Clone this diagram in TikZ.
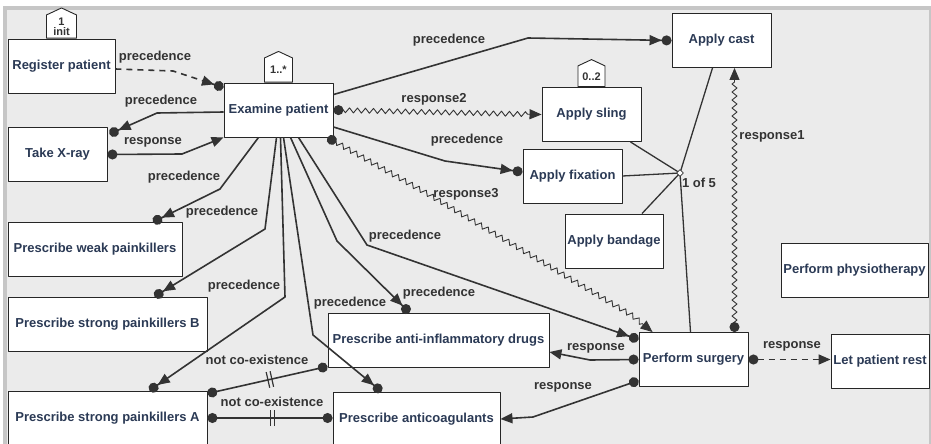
\documentclass[tikz,border=0pt]{standalone}
\usepackage{fontspec}
\setmainfont{Liberation Sans}
\usetikzlibrary{arrows.meta,positioning,calc,shapes.geometric,shapes.symbols,decorations.pathmorphing,decorations.markings}
\definecolor{canvas}{HTML}{EBEBEB}
\definecolor{frameline}{HTML}{C6C6C6}
\definecolor{boxtext}{HTML}{2B3A55}
\definecolor{ink}{HTML}{333333}
\tikzset{
    every picture/.style={line join=round},
    activity/.style={draw=black!85,fill=white,line width=0.9pt,
      minimum height=54pt,inner sep=1pt,text=boxtext,
      font=\fontsize{13}{15}\selectfont\bfseries,align=center},
    tagbox/.style={shape=signal,signal to=north,signal pointer angle=130,
      draw=black!85,fill=white,line width=0.9pt,inner sep=0pt,text=ink,
      font=\fontsize{11}{10}\selectfont\bfseries,align=center},
    choice/.style={diamond,draw=ink,fill=white,line width=0.8pt,
      minimum size=7pt,inner sep=0pt},
    relabel/.style={text=ink,font=\fontsize{13}{15}\selectfont\bfseries,inner sep=1pt},
    link/.style={draw=ink,line width=1.6pt},
    prec/.style={link,-{Triangle[length=12pt,width=10pt]Circle[length=10pt]}},
    resp/.style={link,{Circle[length=10pt]}-{Triangle[length=12pt,width=10pt]}},
    wavy/.style={line width=0.9pt,decorate,decoration={zigzag,segment length=8pt,
      amplitude=2.5pt,pre length=6pt,post length=12pt}},
    dashlink/.style={dash pattern=on 6pt off 5pt},
    notco/.style={link,{Circle[length=10pt]}-{Circle[length=10pt]},
      postaction={decorate,decoration={markings,mark=at position 0.52 with
        {\draw[ink,line width=1.2pt,arrows=-] (-2pt,-8pt)--(-2pt,8pt) (2pt,-8pt)--(2pt,8pt);}}}}
}
\begin{document}
\begin{tikzpicture}[x=1pt,y=-1pt]
  \useasboundingbox (0,0) rectangle (931,444);
  \clip (0,0) rectangle (931,444);
  % window frame
  \fill[white] (0,0) rectangle (931,444);
  \fill[frameline] (3,6) rectangle (931,450);
  \fill[canvas] (7,10) rectangle (929,450);

  % activities
  \node[activity,minimum width=107pt] (reg) at (61.5,66) {Register patient};
  \node[activity,minimum width=109pt] (exam) at (278.5,110) {Examine patient};
  \node[activity,minimum width=99pt] (xray) at (57.5,154.5) {Take X-ray};
  \node[activity,minimum width=99pt] (cast) at (721.5,40.5) {Apply cast};
  \node[activity,minimum width=99pt] (sling) at (591.5,114.5) {Apply sling};
  \node[activity,minimum width=99pt] (fix) at (572.5,176) {Apply fixation};
  \node[activity,minimum width=98pt] (band) at (614,241) {Apply bandage};
  \node[activity,minimum width=174pt] (weak) at (95,249.5) {Prescribe weak painkillers};
  \node[activity,minimum width=199pt] (strongb) at (107.5,324) {Prescribe strong painkillers B};
  \node[activity,minimum width=221pt] (anti) at (438.5,340) {Prescribe anti-inflammatory drugs};
  \node[activity,minimum width=147pt] (physio) at (854.5,270) {Perform physiotherapy};
  \node[activity,minimum width=109pt] (surg) at (693.5,359.5) {Perform surgery};
  \node[activity,minimum width=98pt] (rest) at (880,361) {Let patient rest};
  \node[activity,minimum width=199pt] (stronga) at (107.5,418) {Prescribe strong painkillers A};
  \node[activity,minimum width=167pt] (coag) at (416.5,419) {Prescribe anticoagulants};

  % cardinality tags
  \node[tagbox,above=0pt of reg,minimum width=30pt,minimum height=27pt] (regtag) {1\\init};
  \node[tagbox,above=0pt of exam,minimum width=28pt,minimum height=28pt] (examtag) {1..*};
  \node[tagbox,above=0pt of sling,minimum width=27pt,minimum height=25pt] (slingtag) {0..2};

  % constraints from Examine patient
  \draw[prec,dashlink] ([yshift=-3pt]reg.east) -- (173,71) -- ([yshift=-5pt]exam.north west);
  \draw[prec] ([yshift=-2pt]exam.west) -- (157,113) -- ([xshift=2pt,yshift=-7pt]xray.north east);
  \draw[resp] (xray.east) -- (182,154) -- (exam.south west);
  \draw[prec] ([yshift=-12pt]exam.north east) -- (528,38) -- (cast.west);
  \draw[resp,wavy] (exam.east) -- (sling.west);
  \draw[prec] ([yshift=-17pt]exam.east) -- (445,161) -- ([yshift=4pt]fix.west);
  \draw[resp,wavy] ([xshift=-6pt]exam.south east) -- (428,194) -- (633,316) -- ([xshift=14pt]surg.north west);
  \draw[prec] ([xshift=-20pt]exam.south) -- (220,189) -- ([xshift=58pt]weak.north);
  \draw[prec] ([xshift=-2pt]exam.south) -- (265,229) -- ([xshift=47pt]strongb.north);
  \draw[prec] ([xshift=2pt]exam.south) -- (285,297) -- ([xshift=42pt]stronga.north);
  \draw[prec] ([xshift=5pt]exam.south) -- (313,335) -- ([xshift=-35pt]coag.north);
  \draw[prec] ([xshift=12pt]exam.south) -- (337,241) -- ([xshift=-29pt]anti.north);
  \draw[prec] ([xshift=20pt]exam.south) -- (367,245) -- ([yshift=20pt]surg.west);

  % constraints from Perform surgery
  \draw[resp] (surg.west) -- (590,360) -- ([yshift=-12pt]anti.east);
  \draw[resp] ([yshift=-21pt]surg.west) -- (533,417) -- (coag.east);
  \draw[resp,dashlink] (surg.east) -- (surg.east -| rest.west);
  \draw[resp,wavy] ([xshift=41pt]surg.north) -- ([xshift=41pt]surg.north |- cast.south);

  % not co-existence
  \draw[notco] ([yshift=-3pt]stronga.north east) -- ([yshift=1pt]anti.south west);
  \draw[notco] (stronga.east) -- (stronga.east -| coag.west);

  % 1 of 5 branching
  \coordinate (branch) at (680,173);
  \draw[link,line width=1.3pt] (branch) -- ([xshift=-9pt]cast.south)
    (branch) -- ([xshift=-11pt]sling.south east)
    (branch) -- (fix.east)
    (branch) -- ([xshift=28pt]band.north)
    (branch) -- ([xshift=-3pt]surg.north);
  \node[choice] (branchmark) at (branch) {};

  % labels
  \node[relabel] (l1) at (155,57) {precedence};
  \node[relabel] (l2) at (161,101) {precedence};
  \node[relabel] (l3) at (153,142) {response};
  \node[relabel] (l4) at (184,177) {precedence};
  \node[relabel] (l5) at (222,212) {precedence};
  \node[relabel] (l6) at (244,286) {precedence};
  \node[relabel] (l7) at (350,303) {precedence};
  \node[relabel] (l8) at (439,293) {precedence};
  \node[relabel] (l9) at (405,236) {precedence};
  \node[relabel] (l10) at (449,40) {precedence};
  \node[relabel] (l11) at (434,99) {response2};
  \node[relabel] (l12) at (467,140) {precedence};
  \node[relabel] (l13) at (466,194) {response3};
  \node[relabel] (l14) at (596,348) {response};
  \node[relabel] (l15) at (563,387) {response};
  \node[relabel] (l16) at (792,346) {response};
  \node[relabel] (l17) at (772,136) {response1};
  \node[relabel] (l18) at (699,183) {1 of 5};
  \node[relabel] (l19) at (257,360) {not co-existence};
  \node[relabel] (l20) at (272,402) {not co-existence};
\end{tikzpicture}
\end{document}
